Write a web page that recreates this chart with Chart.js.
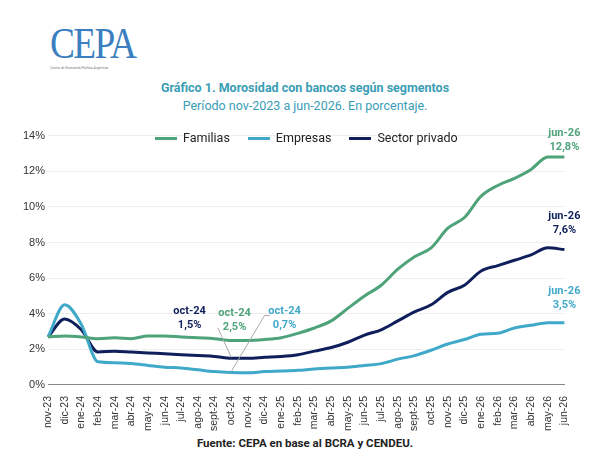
<!DOCTYPE html>
<html><head><meta charset="utf-8">
<script src="https://cdn.jsdelivr.net/npm/chart.js@4"></script>
<style>
body{margin:0;background:#fff;font-family:Roboto,sans-serif;width:610px;height:452px;position:relative;overflow:hidden}
#logo{position:absolute;left:50px;top:18px;color:#3c7fc0;font-family:"Liberation Serif",serif;font-size:44px;letter-spacing:-2px;transform:scaleX(0.85);transform-origin:left}
#logo small{display:block;font-family:Roboto;font-size:4px;color:#777;letter-spacing:0;margin-top:-4px}
#t1{position:absolute;top:80px;width:100%;text-align:center;color:#3a9db5;font-weight:bold;font-size:12.5px}
#t2{position:absolute;top:98px;width:100%;text-align:center;color:#3a9db5;font-size:12.5px}
#src{position:absolute;top:436px;width:100%;text-align:center;font-size:11.5px;font-weight:bold;color:#222}
#wrap{position:absolute;left:20px;top:126px;width:560px;height:308px}
#leg{position:absolute;top:130px;left:155px;font-size:12.5px;color:#222;display:flex;gap:18px}
#leg span:before{content:"";display:inline-block;width:22px;height:3px;vertical-align:middle;margin-right:6px;background:var(--c)}
</style></head><body>
<div id="logo">CEPA<small>Centro de Economía Política Argentina</small></div>
<div id="t1">Gráfico 1. Morosidad con bancos según segmentos</div>
<div id="t2">Período nov-2023 a jun-2026. En porcentaje.</div>
<div id="wrap"><canvas id="c"></canvas></div>
<div id="leg"><span style="--c:#4ea37a">Familias</span><span style="--c:#40a9c9">Empresas</span><span style="--c:#0f1f5c">Sector privado</span></div>
<div id="src">Fuente: CEPA en base al BCRA y CENDEU.</div>
<script>
const labels = ["nov-23","dic-23","ene-24","feb-24","mar-24","abr-24","may-24","jun-24","jul-24","ago-24","sept-24","oct-24","nov-24","dic-24","ene-25","feb-25","mar-25","abr-25","may-25","jun-25","jul-25","ago-25","sept-25","oct-25","nov-25","dic-25","ene-26","feb-26","mar-26","abr-26","may-26","jun-26"];
const familias = [2.7,2.75,2.7,2.6,2.65,2.6,2.75,2.75,2.7,2.65,2.6,2.5,2.5,2.55,2.65,2.9,3.2,3.6,4.3,5.0,5.6,6.5,7.2,7.7,8.8,9.4,10.6,11.2,11.6,12.1,12.8,12.8];
const empresas = [2.7,4.5,3.4,1.3,1.25,1.2,1.1,1.0,0.95,0.85,0.75,0.7,0.68,0.75,0.78,0.82,0.9,0.95,1.0,1.1,1.2,1.45,1.65,1.95,2.3,2.55,2.85,2.9,3.2,3.35,3.5,3.5];
const privado = [2.7,3.7,3.1,1.85,1.9,1.85,1.8,1.75,1.7,1.65,1.6,1.5,1.5,1.55,1.6,1.7,1.9,2.1,2.4,2.8,3.1,3.6,4.1,4.5,5.2,5.6,6.4,6.7,7.0,7.3,7.7,7.6];
const cF = "#4ea37a", cE = "#40a9c9", cP = "#0f1f5c";

const notes = {
  id: "notes",
  afterDatasetsDraw(chart) {
    const g = chart.ctx, x = chart.scales.x, y = chart.scales.y;
    g.save();
    g.font = "bold 11px Roboto"; g.textAlign = "center";
    function txt(a, b, px, py, col) { g.fillStyle = col; g.fillText(a, px, py); g.fillText(b, px, py + 14); }
    const xe = x.getPixelForValue(31);
    txt("jun-26", "12,8%", xe, y.getPixelForValue(14.0), cF);
    txt("jun-26", "7,6%", xe, y.getPixelForValue(9.3), cP);
    txt("jun-26", "3,5%", xe, y.getPixelForValue(5.1), cE);
    const xo = x.getPixelForValue(11);
    txt("oct-24", "1,5%", x.getPixelForValue(8.5), y.getPixelForValue(4.0), cP);
    txt("oct-24", "2,5%", x.getPixelForValue(11.2), y.getPixelForValue(3.9), cF);
    txt("oct-24", "0,7%", x.getPixelForValue(14.2), y.getPixelForValue(4.0), cE);
    g.strokeStyle = "#aaa"; g.lineWidth = 1;
    g.beginPath();
    g.moveTo(x.getPixelForValue(10.2), y.getPixelForValue(3.2)); g.lineTo(xo, y.getPixelForValue(1.55));
    g.moveTo(x.getPixelForValue(13.3), y.getPixelForValue(3.9)); g.lineTo(x.getPixelForValue(13), y.getPixelForValue(3.9));
    g.lineTo(xo, y.getPixelForValue(0.75));
    g.stroke();
    g.restore();
  }
};

new Chart(document.getElementById("c"), {
  type: "line",
  data: {
    labels: labels,
    datasets: [
      { label: "Familias", data: familias, borderColor: cF, backgroundColor: cF },
      { label: "Empresas", data: empresas, borderColor: cE, backgroundColor: cE },
      { label: "Sector privado", data: privado, borderColor: cP, backgroundColor: cP }
    ]
  },
  options: {
    responsive: true, maintainAspectRatio: false, animation: false,
    elements: { point: { radius: 0 }, line: { borderWidth: 3, tension: 0.4, cubicInterpolationMode: "monotone" } },
    layout: { padding: { right: 10, top: 2 } },
    plugins: { legend: { display: false }, tooltip: { enabled: false } },
    scales: {
      y: { min: 0, max: 14, ticks: { stepSize: 2, callback: v => v + "%", color: "#333", font: { size: 11 } },
           grid: { color: "#eee", drawTicks: false }, border: { display: false } },
      x: { offset: false, grid: { display: false }, border: { color: "#888" },
           ticks: { maxRotation: 90, minRotation: 90, autoSkip: false, color: "#333", font: { size: 10.5 } } }
    }
  },
  plugins: [notes]
});
</script>
</body></html>
